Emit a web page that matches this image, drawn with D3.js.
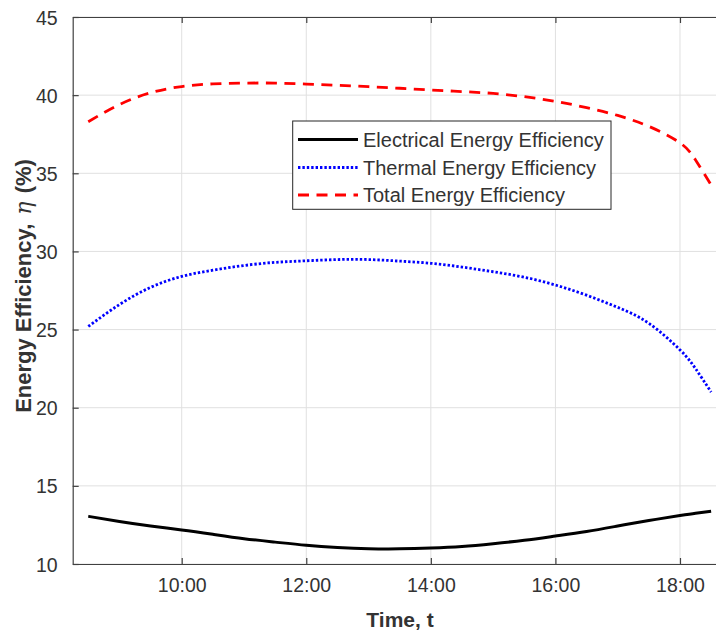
<!DOCTYPE html>
<html>
<head>
<meta charset="utf-8">
<script src="https://cdn.jsdelivr.net/npm/d3@7/dist/d3.min.js"></script>
<style>
  html, body { margin: 0; padding: 0; background: #fff; overflow: hidden; }
  svg { display: block; }
</style>
</head>
<body>
<svg id="chart" width="716" height="633"></svg>
<script>
// ---- Data ----
const timeHours = [8.5, 9, 9.5, 10, 10.5, 11, 11.5, 12, 12.5, 13, 13.5, 14, 14.5, 15, 15.5, 16, 16.5, 17, 17.5, 18, 18.25, 18.5];
const electrical = [13.05, 12.72, 12.43, 12.18, 11.9, 11.62, 11.4, 11.2, 11.06, 10.98, 10.97, 11.02, 11.12, 11.3, 11.52, 11.79, 12.08, 12.43, 12.78, 13.1, 13.25, 13.38];
const thermal = [25.2, 26.6, 27.7, 28.4, 28.8, 29.1, 29.3, 29.4, 29.48, 29.48, 29.38, 29.24, 29.0, 28.7, 28.35, 27.85, 27.2, 26.42, 25.4, 23.7, 22.5, 21.0];
const total = [38.3, 39.4, 40.15, 40.55, 40.72, 40.77, 40.77, 40.71, 40.63, 40.54, 40.44, 40.33, 40.23, 40.11, 39.9, 39.6, 39.2, 38.7, 38.0, 36.95, 35.85, 34.25];
const seriesNames = ["Electrical Energy Efficiency", "Thermal Energy Efficiency", "Total Energy Efficiency"];
const xTicks = [10, 12, 14, 16, 18];
const xTickLabels = ["10:00", "12:00", "14:00", "16:00", "18:00"];
const yTicks = [10, 15, 20, 25, 30, 35, 40, 45];

// ---- Layout ----
const svg = d3.select("#chart");
const pLeft = 72.7, pRight = 726.7, pTop = 17, pBottom = 564;
const x = d3.scaleLinear().domain([8.25, 18.75]).range([pLeft, pRight]);
const y = d3.scaleLinear().domain([10, 45]).range([pBottom, pTop]);
const axisColor = "#404040";
const textColor = "#333333";
const font = "'Liberation Sans', Arial, sans-serif";

// grid
const g = svg.append("g");
g.selectAll("line.gx").data(xTicks).enter().append("line")
  .attr("x1", d => x(d)).attr("x2", d => x(d)).attr("y1", pTop).attr("y2", pBottom)
  .attr("stroke", "#e0e0e0").attr("stroke-width", 1);
g.selectAll("line.gy").data(yTicks).enter().append("line")
  .attr("x1", pLeft).attr("x2", pRight).attr("y1", d => y(d)).attr("y2", d => y(d))
  .attr("stroke", "#e0e0e0").attr("stroke-width", 1);

// axes using d3 axes (inward ticks)
const xAxis = d3.axisBottom(x).tickValues(xTicks).tickFormat((d, i) => xTickLabels[i]).tickSizeInner(-6).tickSizeOuter(0).tickPadding(14);
const xAxisTop = d3.axisTop(x).tickValues(xTicks).tickFormat("").tickSizeInner(-6).tickSizeOuter(0);
const yAxis = d3.axisLeft(y).tickValues(yTicks).tickSizeInner(-6).tickSizeOuter(0).tickPadding(15);

function styleAxis(sel) {
  sel.select(".domain").attr("stroke", axisColor).attr("stroke-width", 1.2);
  sel.selectAll(".tick line").attr("stroke", axisColor).attr("stroke-width", 1.2);
  sel.selectAll(".tick text").attr("fill", textColor).attr("font-family", font).attr("font-size", 19.5);
}
svg.append("g").attr("transform", `translate(0,${pBottom})`).call(xAxis).call(styleAxis);
svg.append("g").attr("transform", `translate(0,${pTop})`).call(xAxisTop).call(styleAxis);
const gy = svg.append("g").attr("transform", `translate(${pLeft},0)`).call(yAxis).call(styleAxis);
gy.selectAll(".tick text").attr("dy", "0.36em");

// lines
const line = d3.line().x((d, i) => x(timeHours[i])).y(d => y(d)).curve(d3.curveNatural);
const series = [
  { vals: electrical, color: "#000000", dash: null, width: 3 },
  { vals: thermal, color: "#0000ff", dash: "2.4,2", width: 2.8 },
  { vals: total, color: "#ff0000", dash: "11,7.5", width: 2.8 }
];
series.forEach(s => {
  svg.append("path").datum(s.vals).attr("d", line)
    .attr("fill", "none").attr("stroke", s.color).attr("stroke-width", s.width)
    .attr("stroke-dasharray", s.dash);
});

// legend
const lg = svg.append("g");
lg.append("rect").attr("x", 292.7).attr("y", 121).attr("width", 318.3).attr("height", 88.3)
  .attr("fill", "#fff").attr("stroke", "#262626").attr("stroke-width", 1);
const rowY = [139.5, 167.5, 195];
seriesNames.forEach((name, i) => {
  const s = series[i];
  lg.append("line").attr("x1", 298).attr("x2", 358).attr("y1", rowY[i]).attr("y2", rowY[i])
    .attr("stroke", s.color).attr("stroke-width", s.width).attr("stroke-dasharray", s.dash);
  lg.append("text").attr("x", 363).attr("y", rowY[i]).attr("dy", "0.36em")
    .attr("font-family", font).attr("font-size", 20).attr("fill", textColor).text(name);
});

// axis labels
svg.append("text").attr("x", 400).attr("y", 627)
  .attr("text-anchor", "middle").attr("font-family", font).attr("font-weight", "bold")
  .attr("font-size", 21).attr("fill", textColor).text("Time, t");

const yl = svg.append("text").attr("transform", "translate(31,286) rotate(-90)")
  .attr("text-anchor", "middle").attr("font-family", font).attr("font-weight", "bold")
  .attr("font-size", 22).attr("fill", textColor);
yl.append("tspan").text("Energy Efficiency, ");
yl.append("tspan").attr("font-family", "'DejaVu Serif', 'Liberation Serif', serif").attr("font-style", "italic").attr("font-weight", "normal").attr("dx", 3).text("η");
yl.append("tspan").attr("dx", 2).text(" (%)");
</script>
</body>
</html>
